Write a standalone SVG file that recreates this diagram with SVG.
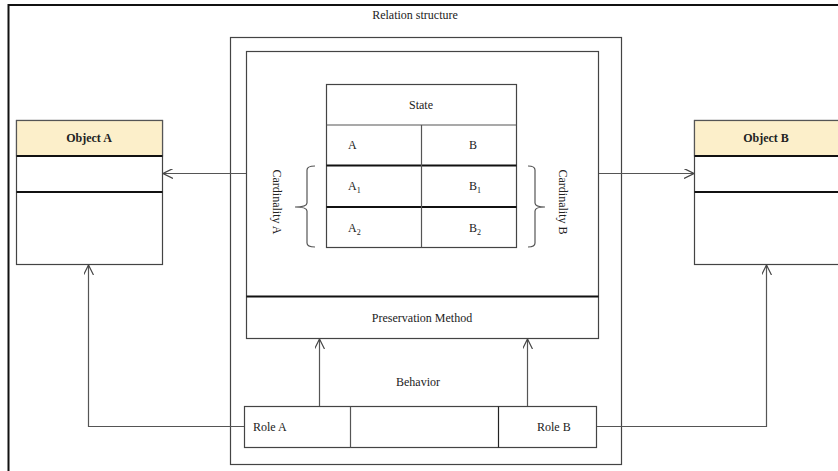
<svg xmlns="http://www.w3.org/2000/svg" width="838" height="471" viewBox="0 0 838 471">
<defs>
<marker id="arr" viewBox="0 0 10 10" refX="10" refY="5" markerWidth="10" markerHeight="10" markerUnits="userSpaceOnUse" orient="auto">
<path d="M0,0 L10,5 L0,10" fill="none" stroke="#444" stroke-width="1.2"/>
</marker>
</defs>
<style>
text{font-family:"Liberation Serif","Times New Roman",serif;font-size:12px;fill:#222}
.b{font-weight:bold}
.box{fill:#fff;stroke:#444;stroke-width:1.2}
.thin{stroke:#555;stroke-width:1.2;fill:none}
.thick{stroke:#111;stroke-width:1.8;fill:none}
.hdr{fill:#fcefca;stroke:#555;stroke-width:1.2}
.conn{stroke:#555;stroke-width:1.2;fill:none}
</style>
<rect width="838" height="471" fill="#fff"/>
<g id="frame">
<path d="M8.5,471 L8.5,5 L845,5" fill="none" stroke="#111" stroke-width="2"/>
<text x="415" y="19" text-anchor="middle">Relation structure</text>
</g>
<g id="relation">
<rect x="230.5" y="37.5" width="391" height="427" class="box" stroke="#222"/>
</g>
<g id="inner">
<rect x="246.5" y="51.5" width="352" height="287" class="box"/>
<line x1="246.5" y1="296.5" x2="598.5" y2="296.5" class="thick"/>
<text x="422" y="322" text-anchor="middle">Preservation Method</text>
</g>
<g id="state">
<rect x="326.5" y="84.5" width="190" height="163" class="box" stroke="#222"/>
<line x1="326.5" y1="125" x2="516.5" y2="125" class="thin"/>
<line x1="326.5" y1="165.5" x2="516.5" y2="165.5" class="thick"/>
<line x1="326.5" y1="207" x2="516.5" y2="207" class="thick"/>
<line x1="421.5" y1="125" x2="421.5" y2="247.5" class="thin"/>
<text x="421" y="109" text-anchor="middle">State</text>
<text x="348" y="149">A</text>
<text x="469" y="149">B</text>
<text x="348" y="190">A<tspan font-size="8" dy="3">1</tspan></text>
<text x="469" y="190">B<tspan font-size="8" dy="3">1</tspan></text>
<text x="348" y="232">A<tspan font-size="8" dy="3">2</tspan></text>
<text x="469" y="232">B<tspan font-size="8" dy="3">2</tspan></text>
</g>
<g id="cardA">
<path d="M315,166 Q307,166 307,170 L307,203 Q307,207 295,207 Q307,207 307,211 L307,243 Q307,247 315,247" class="thin"/>
<text transform="translate(273,202) rotate(90)" text-anchor="middle">Cardinality A</text>
</g>
<g id="cardB">
<path d="M528,166 Q535,166 535,170 L535,203 Q535,207 545,207 Q535,207 535,211 L535,243 Q535,247 528,247" class="thin"/>
<text transform="translate(559,202) rotate(90)" text-anchor="middle">Cardinality B</text>
</g>
<g id="objectA">
<rect x="16.5" y="120.5" width="146" height="144" class="box"/>
<rect x="16.5" y="120.5" width="146" height="35.5" class="hdr"/>
<line x1="16.5" y1="156" x2="162.5" y2="156" class="thick"/>
<line x1="16.5" y1="192" x2="162.5" y2="192" class="thick"/>
<text x="89" y="142" text-anchor="middle" class="b">Object A</text>
</g>
<g id="objectB">
<rect x="694.5" y="120.5" width="150" height="144" class="box"/>
<rect x="694.5" y="120.5" width="150" height="35.5" class="hdr"/>
<line x1="694.5" y1="156" x2="844" y2="156" class="thick"/>
<line x1="694.5" y1="192" x2="844" y2="192" class="thick"/>
<text x="766" y="142" text-anchor="middle" class="b">Object B</text>
</g>
<g id="behavior">
<text x="418" y="386" text-anchor="middle">Behavior</text>
</g>
<g id="roles">
<rect x="244.5" y="406.5" width="352" height="41" class="box" stroke="#222"/>
<line x1="350.5" y1="406.5" x2="350.5" y2="447.5" class="thin"/>
<line x1="498.5" y1="406.5" x2="498.5" y2="447.5" stroke="#222" stroke-width="1.2"/>
<text x="253" y="431">Role A</text>
<text x="537" y="431">Role B</text>
</g>
<g id="connectors">
<line x1="246" y1="173.5" x2="163" y2="173.5" class="conn" marker-end="url(#arr)"/>
<line x1="599" y1="173.5" x2="694" y2="173.5" class="conn" marker-end="url(#arr)"/>
<line x1="319.5" y1="406" x2="319.5" y2="339" class="conn" marker-end="url(#arr)"/>
<line x1="527.5" y1="406" x2="527.5" y2="339" class="conn" marker-end="url(#arr)"/>
<path d="M244,426.5 L88.5,426.5 L88.5,265" class="conn" marker-end="url(#arr)"/>
<path d="M597,426.5 L766.5,426.5 L766.5,265" class="conn" marker-end="url(#arr)"/>
</g>
</svg>
